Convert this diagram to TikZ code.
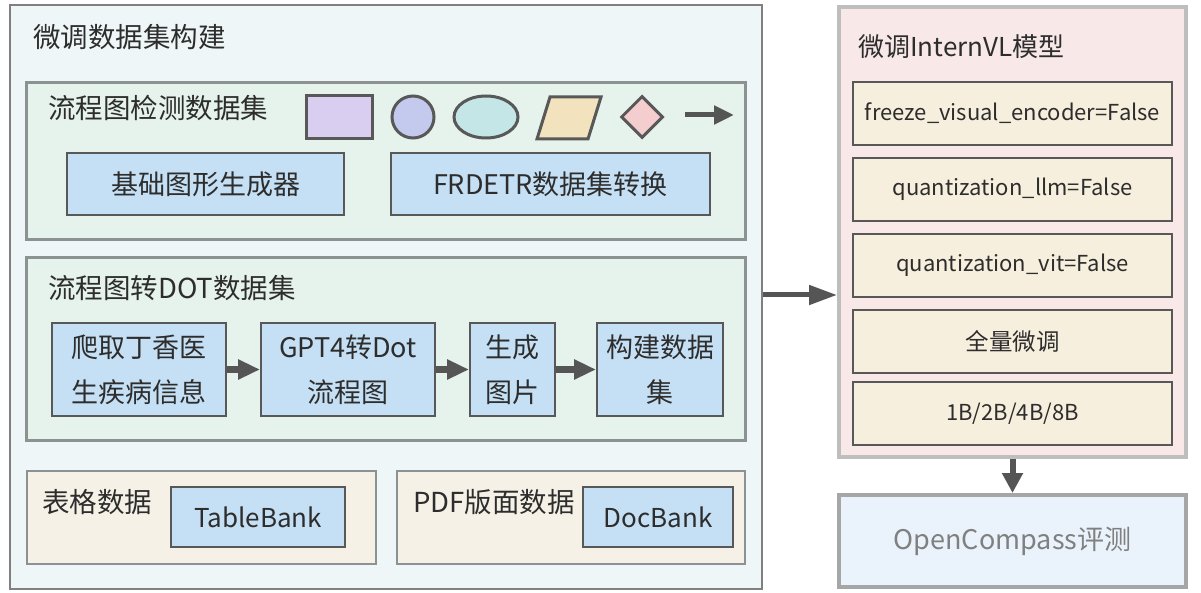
\documentclass[tikz,border=0pt]{standalone}
\usepackage{fontspec}
\setmainfont{Noto Sans CJK SC}
\usetikzlibrary{arrows.meta,shapes.geometric}
\definecolor{outerfill}{RGB}{238,246,248}
\definecolor{outerdraw}{RGB}{128,128,128}
\definecolor{greenfill}{RGB}{230,242,236}
\definecolor{greendraw}{RGB}{140,145,145}
\definecolor{bluefill}{RGB}{197,224,244}
\definecolor{darkline}{RGB}{88,88,88}
\definecolor{beigefill}{RGB}{245,241,230}
\definecolor{pinkfill}{RGB}{248,232,232}
\definecolor{pinkdraw}{RGB}{190,190,190}
\definecolor{creamfill}{RGB}{247,239,222}
\definecolor{ocfill}{RGB}{234,243,251}
\definecolor{ocdraw}{RGB}{166,166,166}
\definecolor{txt}{RGB}{45,45,45}
\definecolor{arrowc}{RGB}{85,85,85}
\definecolor{shpurple}{RGB}{218,206,240}
\definecolor{shblue}{RGB}{196,202,238}
\definecolor{shcyan}{RGB}{196,230,230}
\definecolor{shyellow}{RGB}{242,226,190}
\definecolor{shpink}{RGB}{244,206,206}
\begin{document}
\begin{tikzpicture}[x=1pt,y=-1pt,
  box/.style={rectangle,inner sep=0pt,text=txt},
  outerbox/.style={box,fill=outerfill,draw=outerdraw,line width=2pt},
  groupbox/.style={box,fill=greenfill,draw=greendraw,line width=3pt},
  beigebox/.style={box,fill=beigefill,draw=greendraw,line width=2pt},
  bluebox/.style={box,fill=bluefill,draw=darkline,line width=2pt,font=\fontsize{27}{45}\selectfont,align=center},
  modelbox/.style={box,fill=pinkfill,draw=pinkdraw,line width=4pt},
  creambox/.style={box,fill=creamfill,draw=darkline,line width=2pt,minimum width=319,minimum height=63,font=\fontsize{22}{26}\selectfont},
  title/.style={anchor=west,inner sep=0pt,text=txt,font=\fontsize{27.5}{32}\selectfont},
  legendshape/.style={draw=darkline,line width=3pt,inner sep=0pt},
  flowarrow/.style={draw=arrowc,line width=7pt,-{Triangle[length=22pt,width=19pt]}},
  bigarrow/.style={draw=arrowc,line width=5pt,-{Triangle[length=28pt,width=19pt]}},
]
\useasboundingbox[fill=white] (0,0) rectangle (1201,593);

% left outer container
\node[outerbox,minimum width=752,minimum height=584] (left) at (386,297) {};
\node[title] (lefttitle) at (33,37) {微调数据集构建};

% group 1
\node[groupbox,minimum width=719,minimum height=157] (g1) at (385.5,161.5) {};
\node[title] (g1title) at (48,108) {流程图检测数据集};
\node[legendshape,fill=shpurple,minimum width=66,minimum height=43] (lrect) at (339,117.5) {};
\node[legendshape,fill=shblue,circle,minimum size=42] (lcirc) at (413,117) {};
\node[legendshape,fill=shcyan,ellipse,minimum width=64,minimum height=42] (lell) at (486,117) {};
\draw[legendshape,fill=shyellow] (537,139) -- (550,97) -- (601,97) -- (588,139) -- cycle;
\node[legendshape,fill=shpink,diamond,minimum width=42,minimum height=42] (ldia) at (642,117) {};
\coordinate (la1) at (685,115);
\coordinate (la2) at (734,115);
\draw[draw=arrowc,line width=5pt,-{Triangle[length=20pt,width=18pt]}] (la1) -- (la2);
\node[bluebox,minimum width=277,minimum height=62] (gen) at (205.5,184) {基础图形生成器};
\node[bluebox,minimum width=319,minimum height=62] (frdetr) at (550.5,184) {FRDETR数据集转换};

% group 2
\node[groupbox,minimum width=719,minimum height=182] (g2) at (385.5,349) {};
\node[title] (g2title) at (48,288) {流程图转DOT数据集};
\node[bluebox,minimum width=174,minimum height=93] (f1) at (139,369.5) {爬取丁香医\\生疾病信息};
\node[bluebox,minimum width=174,minimum height=93] (f2) at (348,369.5) {GPT4转Dot\\流程图};
\node[bluebox,minimum width=85,minimum height=93] (f3) at (512.5,369.5) {生成\\图片};
\node[bluebox,minimum width=126,minimum height=93] (f4) at (660,369.5) {构建数据\\集};
\draw[flowarrow] (f1) -- (f2);
\draw[flowarrow] (f2) -- (f3);
\draw[flowarrow] (f3) -- (f4);

% bottom groups
\node[beigebox,minimum width=349,minimum height=93] (g3) at (201.5,517.5) {};
\node[title] (g3title) at (42,502) {表格数据};
\node[bluebox,minimum width=174,minimum height=60,font=\fontsize{26}{30}\selectfont] (tb) at (258,517) {TableBank};
\node[beigebox,minimum width=348,minimum height=93] (g4) at (571,517.5) {};
\node[title] (g4title) at (413,502) {PDF版面数据};
\node[bluebox,minimum width=150,minimum height=60,font=\fontsize{26}{30}\selectfont] (db) at (658,517) {DocBank};

% right model box
\node[modelbox,minimum width=347,minimum height=450] (model) at (1012.5,232) {};
\node[title,font=\fontsize{26}{30}\selectfont] (mtitle) at (858,47) {微调InternVL模型};
\node[creambox] (m1) at (1012.5,113.5) {freeze\_visual\_encoder=False};
\node[creambox] (m2) at (1012.5,189.5) {quantization\_llm=False};
\node[creambox] (m3) at (1012.5,265.5) {quantization\_vit=False};
\node[creambox,font=\fontsize{23.5}{28}\selectfont] (m4) at (1012.5,341.5) {全量微调};
\node[creambox] (m5) at (1012.5,413.5) {1B/2B/4B/8B};

% evaluation
\node[box,fill=ocfill,draw=ocdraw,line width=4pt,minimum width=347,minimum height=92,text={rgb,255:red,128;green,128;blue,128},font=\fontsize{27}{32}\selectfont] (oc) at (1012.5,541) {OpenCompass评测};

\draw[bigarrow] (left.east |- 0,295) -- (model.west |- 0,295);
\draw[draw=arrowc,line width=6pt,-{Triangle[length=20pt,width=20pt]}] (model.south) -- (oc.north);
\end{tikzpicture}
\end{document}
